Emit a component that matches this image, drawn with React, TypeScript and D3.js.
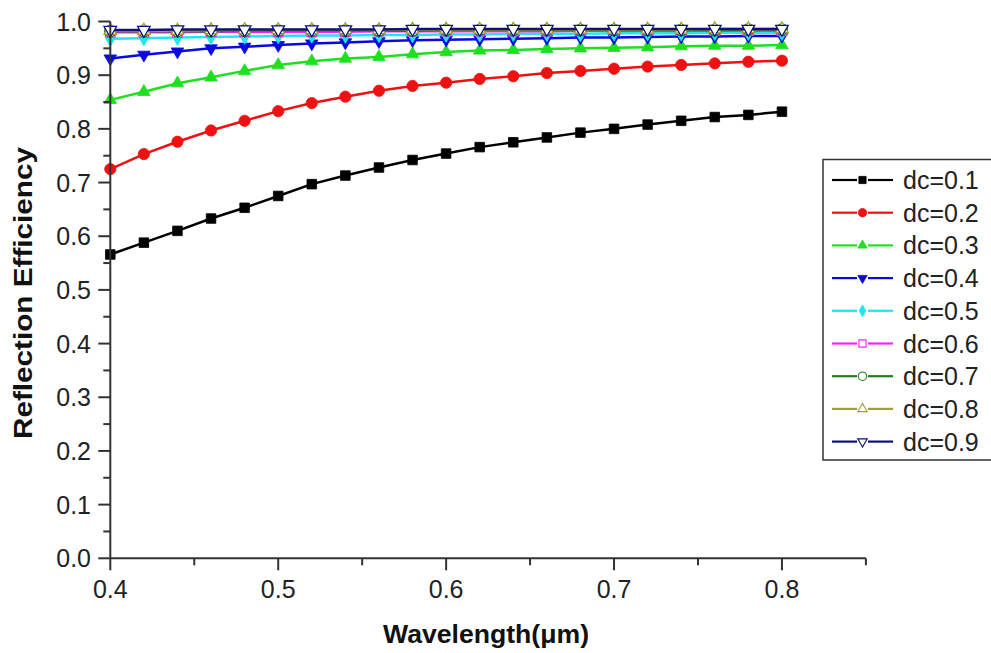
import React from "react";
import * as d3 from "d3";

const wavelengths = [0.40,0.42,0.44,0.46,0.48,0.50,0.52,0.54,0.56,0.58,0.60,0.62,0.64,0.66,0.68,0.70,0.72,0.74,0.76,0.78,0.80];

const dc01 = [0.566,0.588,0.610,0.633,0.653,0.675,0.697,0.713,0.728,0.742,0.754,0.766,0.775,0.784,0.793,0.800,0.808,0.815,0.822,0.826,0.832];
const dc02 = [0.725,0.753,0.776,0.797,0.815,0.833,0.848,0.860,0.871,0.880,0.886,0.893,0.898,0.904,0.908,0.912,0.916,0.919,0.922,0.925,0.927];
const dc03 = [0.854,0.869,0.885,0.896,0.908,0.919,0.926,0.931,0.934,0.939,0.943,0.946,0.947,0.949,0.950,0.951,0.952,0.954,0.955,0.955,0.956];
const dc04 = [0.931,0.938,0.944,0.950,0.953,0.956,0.959,0.961,0.963,0.965,0.966,0.967,0.968,0.969,0.970,0.970,0.971,0.972,0.972,0.973,0.973];
const dc05 = [0.968,0.969,0.970,0.971,0.972,0.973,0.974,0.974,0.975,0.975,0.976,0.976,0.977,0.977,0.977,0.978,0.978,0.978,0.979,0.979,0.979];
const dc06 = [0.980,0.980,0.980,0.981,0.981,0.981,0.981,0.981,0.982,0.982,0.982,0.982,0.982,0.982,0.983,0.983,0.983,0.983,0.983,0.983,0.983];
const dc07 = [0.982,0.982,0.982,0.982,0.983,0.983,0.983,0.983,0.983,0.983,0.984,0.984,0.984,0.984,0.984,0.984,0.984,0.984,0.984,0.985,0.985];
const dc08 = [0.983,0.983,0.983,0.984,0.984,0.984,0.984,0.984,0.984,0.985,0.985,0.985,0.985,0.985,0.985,0.985,0.985,0.985,0.986,0.986,0.986];
const dc09 = [0.984,0.984,0.985,0.985,0.985,0.985,0.985,0.985,0.985,0.986,0.986,0.986,0.986,0.986,0.986,0.986,0.986,0.986,0.986,0.986,0.986];

const seriesNames = ["dc=0.1","dc=0.2","dc=0.3","dc=0.4","dc=0.5","dc=0.6","dc=0.7","dc=0.8","dc=0.9"];
const seriesValues = [dc01, dc02, dc03, dc04, dc05, dc06, dc07, dc08, dc09];
const seriesColors = ["#000000","#ee1111","#1ee01e","#0a0ae0","#20e6f0","#ff22ff","#1a801a","#a0a030","#10107a"];
const seriesMarkers = ["square","circle","triangle","triangleDown","diamond","square","circle","triangle","triangleDown"];
const seriesFilled = [true,true,true,true,true,false,false,false,false];

const yTicks = [0,0.1,0.2,0.3,0.4,0.5,0.6,0.7,0.8,0.9,1.0];
const yMinor = [0.05,0.15,0.25,0.35,0.45,0.55,0.65,0.75,0.85,0.95];
const xTicks = [0.4,0.5,0.6,0.7,0.8];
const xMinor = [0.45,0.55,0.65,0.75,0.85];

const FONT = "'Liberation Sans', Arial, Helvetica, sans-serif";

function markerPath(kind: string, scale: number): { d: string; rot: number } {
  const s = scale;
  if (kind === "square") return { d: d3.symbol(d3.symbolSquare, 92 * s * s)() as string, rot: 0 };
  if (kind === "circle") return { d: d3.symbol(d3.symbolCircle, 100 * s * s)() as string, rot: 0 };
  if (kind === "triangle") return { d: d3.symbol(d3.symbolTriangle, 68 * s * s)() as string, rot: 0 };
  if (kind === "triangleDown") return { d: d3.symbol(d3.symbolTriangle, 68 * s * s)() as string, rot: 180 };
  return { d: d3.symbol(d3.symbolDiamond, 70 * s * s)() as string, rot: 0 };
}

export default function App() {
  const W = 991, H = 653;
  const x = d3.scaleLinear().domain([0.4, 0.85]).range([110.3, 865.9]);
  const y = d3.scaleLinear().domain([0, 1]).range([558.3, 21.5]);
  const line = d3.line<number>().x((_, i) => x(wavelengths[i])).y((v) => y(v));

  const axisColor = "#333";
  const legendX = 823, legendY = 159.5, legendH = 300.5;
  const rowY = (i: number) => 180 + i * 32.7;

  return (
    <svg width={W} height={H} style={{ position: "absolute", left: 0, top: 0, background: "#fff" }} fontFamily={FONT}>
      <rect x={0} y={0} width={W} height={H} fill="#fff" />
      {/* series */}
      {seriesValues.map((vals, si) => {
        const m = markerPath(seriesMarkers[si], 1);
        return (
          <g key={si}>
            <path d={line(vals) as string} fill="none" stroke={seriesColors[si]} strokeWidth={2.5} />
            {vals.map((v, i) => (
              <path
                key={i}
                d={m.d}
                transform={`translate(${x(wavelengths[i])},${y(v)}) rotate(${m.rot})`}
                fill={seriesFilled[si] ? seriesColors[si] : "#fff"}
                stroke={seriesColors[si]}
                strokeWidth={seriesFilled[si] ? 0.8 : 1.3}
              />
            ))}
          </g>
        );
      })}
      {/* axes */}
      <line x1={x(0.4)} x2={x(0.4)} y1={y(0)} y2={y(1)} stroke={axisColor} strokeWidth={2} />
      <line x1={x(0.4)} x2={x(0.85)} y1={y(0)} y2={y(0)} stroke={axisColor} strokeWidth={2} />
      {yTicks.map((t) => (
        <g key={"yt" + t}>
          <line x1={x(0.4) - 12} x2={x(0.4)} y1={y(t)} y2={y(t)} stroke={axisColor} strokeWidth={2} />
          <text x={91} y={y(t) + 9} textAnchor="end" fontSize={25} fill="#222">{d3.format(".1f")(t)}</text>
        </g>
      ))}
      {yMinor.map((t) => (
        <line key={"ym" + t} x1={x(0.4) - 7} x2={x(0.4)} y1={y(t)} y2={y(t)} stroke={axisColor} strokeWidth={2} />
      ))}
      {xTicks.map((t) => (
        <g key={"xt" + t}>
          <line x1={x(t)} x2={x(t)} y1={y(0)} y2={y(0) + 12} stroke={axisColor} strokeWidth={2} />
          <text x={x(t)} y={598} textAnchor="middle" fontSize={25} fill="#222">{d3.format(".1f")(t)}</text>
        </g>
      ))}
      {xMinor.map((t) => (
        <line key={"xm" + t} x1={x(t)} x2={x(t)} y1={y(0)} y2={y(0) + 7} stroke={axisColor} strokeWidth={2} />
      ))}
      {/* axis titles */}
      <text x={486} y={643} textAnchor="middle" fontSize={26} fontWeight="bold" fill="#111" textLength={206} lengthAdjust="spacingAndGlyphs">Wavelength(μm)</text>
      <text transform={`translate(32,293) rotate(-90)`} textAnchor="middle" fontSize={26} fontWeight="bold" fill="#111" textLength={292} lengthAdjust="spacingAndGlyphs">Reflection Efficiency</text>
      {/* legend */}
      <rect x={legendX} y={legendY} width={200} height={legendH} fill="#fff" stroke="#333" strokeWidth={1.5} />
      {seriesNames.map((name, si) => {
        const m = markerPath(seriesMarkers[si], 0.75);
        const cy = rowY(si);
        return (
          <g key={"lg" + si}>
            <line x1={832} x2={857} y1={cy} y2={cy} stroke={seriesColors[si]} strokeWidth={2.2} />
            <line x1={868} x2={893} y1={cy} y2={cy} stroke={seriesColors[si]} strokeWidth={2.2} />
            <path
              d={m.d}
              transform={`translate(862.5,${cy}) rotate(${m.rot})`}
              fill={seriesFilled[si] ? seriesColors[si] : "#fff"}
              stroke={seriesColors[si]}
              strokeWidth={seriesFilled[si] ? 0.8 : 1.1}
            />
            <text x={903} y={cy + 9} fontSize={25} fill="#222">{name}</text>
          </g>
        );
      })}
    </svg>
  );
}
